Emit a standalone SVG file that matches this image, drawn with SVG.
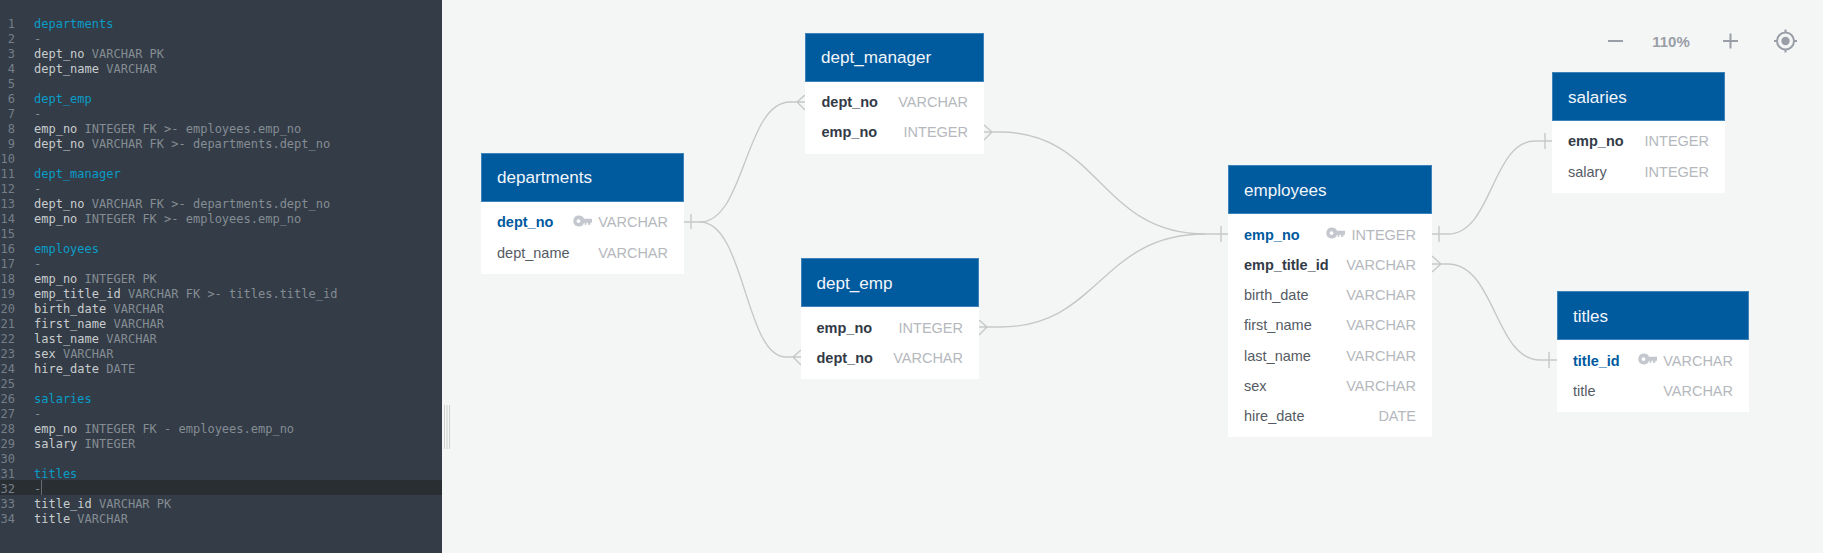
<svg xmlns="http://www.w3.org/2000/svg" width="1823" height="553" viewBox="0 0 1823 553">
<style>
.bg{fill:#f4f6f6}
.side{fill:#333c47}
.code text{font-family:"DejaVu Sans Mono","Liberation Mono",monospace;font-size:12px;fill:#858c93}
.code .ln{fill:#767f88;text-anchor:end}
.code .t{fill:#0a9cc8}
.code .k{fill:#c9ccce}
.hd{fill:#005a9e;stroke:#3d82b8;stroke-width:1}
.bd{fill:#fff}
.name{font-family:"Liberation Sans",Arial,sans-serif;font-size:17.1px;fill:#f2f6fa}
.f{font-family:"Liberation Sans",Arial,sans-serif;font-size:14.5px;fill:#555b63}
.b{font-weight:700;fill:#333b47}
.p{font-weight:700;fill:#005a9e}
.ty{font-family:"Liberation Sans",Arial,sans-serif;font-size:14.5px;fill:#b5b8bd;text-anchor:end}
.c path{fill:none;stroke:#c6c8c8;stroke-width:1.4}
.ctl{stroke:#9a9ea6;stroke-width:2;fill:none}
</style>
<defs>
<path id="key" fill="#c4c8ce" fill-rule="evenodd" d="M5 -5.500a5.500 5.500 0 0 1 5 3.300H18V1.800H16.400V3.800H14V1.800H12.400V3.800H10.600V1.800H10A5.500 5.500 0 1 1 5 -5.500ZM4.500 -1.800a1.900 1.900 0 1 0 .01 0Z"/>
</defs>
<rect class="bg" width="1823" height="553"/>
<g id="editor">
<rect class="side" width="442" height="553"/>
<rect x="0" y="480" width="442" height="15" fill="#292e33"/>
<rect x="41" y="480" width="1" height="15" fill="#666c73"/>
<g class="code" transform="translate(0 0.6)">
<text class="ln" x="15" y="27">1</text><text x="34" y="27" class="t">departments</text>
<text class="ln" x="15" y="42">2</text><text x="34" y="42">-</text>
<text class="ln" x="15" y="57">3</text><text x="34" y="57"><tspan class="k">dept_no</tspan> VARCHAR PK</text>
<text class="ln" x="15" y="72">4</text><text x="34" y="72"><tspan class="k">dept_name</tspan> VARCHAR</text>
<text class="ln" x="15" y="87">5</text>
<text class="ln" x="15" y="102">6</text><text x="34" y="102" class="t">dept_emp</text>
<text class="ln" x="15" y="117">7</text><text x="34" y="117">-</text>
<text class="ln" x="15" y="132">8</text><text x="34" y="132"><tspan class="k">emp_no</tspan> INTEGER FK &gt;- employees.emp_no</text>
<text class="ln" x="15" y="147">9</text><text x="34" y="147"><tspan class="k">dept_no</tspan> VARCHAR FK &gt;- departments.dept_no</text>
<text class="ln" x="15" y="162">10</text>
<text class="ln" x="15" y="177">11</text><text x="34" y="177" class="t">dept_manager</text>
<text class="ln" x="15" y="192">12</text><text x="34" y="192">-</text>
<text class="ln" x="15" y="207">13</text><text x="34" y="207"><tspan class="k">dept_no</tspan> VARCHAR FK &gt;- departments.dept_no</text>
<text class="ln" x="15" y="222">14</text><text x="34" y="222"><tspan class="k">emp_no</tspan> INTEGER FK &gt;- employees.emp_no</text>
<text class="ln" x="15" y="237">15</text>
<text class="ln" x="15" y="252">16</text><text x="34" y="252" class="t">employees</text>
<text class="ln" x="15" y="267">17</text><text x="34" y="267">-</text>
<text class="ln" x="15" y="282">18</text><text x="34" y="282"><tspan class="k">emp_no</tspan> INTEGER PK</text>
<text class="ln" x="15" y="297">19</text><text x="34" y="297"><tspan class="k">emp_title_id</tspan> VARCHAR FK &gt;- titles.title_id</text>
<text class="ln" x="15" y="312">20</text><text x="34" y="312"><tspan class="k">birth_date</tspan> VARCHAR</text>
<text class="ln" x="15" y="327">21</text><text x="34" y="327"><tspan class="k">first_name</tspan> VARCHAR</text>
<text class="ln" x="15" y="342">22</text><text x="34" y="342"><tspan class="k">last_name</tspan> VARCHAR</text>
<text class="ln" x="15" y="357">23</text><text x="34" y="357"><tspan class="k">sex</tspan> VARCHAR</text>
<text class="ln" x="15" y="372">24</text><text x="34" y="372"><tspan class="k">hire_date</tspan> DATE</text>
<text class="ln" x="15" y="387">25</text>
<text class="ln" x="15" y="402">26</text><text x="34" y="402" class="t">salaries</text>
<text class="ln" x="15" y="417">27</text><text x="34" y="417">-</text>
<text class="ln" x="15" y="432">28</text><text x="34" y="432"><tspan class="k">emp_no</tspan> INTEGER FK - employees.emp_no</text>
<text class="ln" x="15" y="447">29</text><text x="34" y="447"><tspan class="k">salary</tspan> INTEGER</text>
<text class="ln" x="15" y="462">30</text>
<text class="ln" x="15" y="477">31</text><text x="34" y="477" class="t">titles</text>
<text class="ln" x="15" y="492">32</text><text x="34" y="492">-</text>
<text class="ln" x="15" y="507">33</text><text x="34" y="507"><tspan class="k">title_id</tspan> VARCHAR PK</text>
<text class="ln" x="15" y="522">34</text><text x="34" y="522"><tspan class="k">title</tspan> VARCHAR</text>
</g>
<path d="M444.5 405V449M447 405V449M449.5 405V449" stroke="#d0d2d2" stroke-width="1" fill="none"/>
</g>
<g id="connectors" class="c">
<path d="M684 222H700C745 222 745 102 790 102H805M797 102L805 95M797 102L805 110M691 214V229"/>
<path d="M700 222C745 222 745 357 786 357H801M793 357L801 350M793 357L801 365"/>
<path d="M984 132H1000C1100 132 1100 234 1205 234H1228M992 132L984 125M992 132L984 140M1221 226V242"/>
<path d="M979 327H1000C1100 327 1100 234 1205 234M987 327L979 320M987 327L979 335"/>
<path d="M1432 234H1448C1492 234 1492 141 1535 141H1552M1439 226V242M1545 133V149"/>
<path d="M1432 264H1448C1495 264 1495 360 1540 360H1557M1441 264L1432 256M1441 264L1432 272M1549 352V368"/>
</g>
<g id="departments">
<rect class="bd" x="481" y="201" width="203" height="73"/>
<rect class="hd" x="481.5" y="153.5" width="202" height="48"/>
<text class="name" x="497" y="183">departments</text>
<text class="f p" x="497" y="227">dept_no</text><use href="#key" x="574" y="221"/><text class="ty" x="668" y="227">VARCHAR</text>
<text class="f" x="497" y="257.500">dept_name</text><text class="ty" x="668" y="257.500">VARCHAR</text>
</g>
<g id="dept_manager">
<rect class="bd" x="805" y="81" width="179" height="73"/>
<rect class="hd" x="805.5" y="33.5" width="178" height="48"/>
<text class="name" x="821" y="63">dept_manager</text>
<text class="f b" x="821.500" y="107">dept_no</text><text class="ty" x="968" y="107">VARCHAR</text>
<text class="f b" x="821.500" y="137">emp_no</text><text class="ty" x="968" y="137">INTEGER</text>
</g>
<g id="dept_emp">
<rect class="bd" x="801" y="306" width="178" height="73"/>
<rect class="hd" x="801.5" y="258.5" width="177" height="48"/>
<text class="name" x="816.500" y="288.500">dept_emp</text>
<text class="f b" x="816.500" y="332.500">emp_no</text><text class="ty" x="963" y="332.500">INTEGER</text>
<text class="f b" x="816.500" y="362.500">dept_no</text><text class="ty" x="963" y="362.500">VARCHAR</text>
</g>
<g id="employees">
<rect class="bd" x="1228" y="213" width="204" height="224"/>
<rect class="hd" x="1228.5" y="165.5" width="203" height="48"/>
<text class="name" x="1244" y="195.500">employees</text>
<text class="f p" x="1244" y="239.500">emp_no</text><use href="#key" x="1327" y="233"/><text class="ty" x="1416" y="239.500">INTEGER</text>
<text class="f b" x="1244" y="269.500">emp_title_id</text><text class="ty" x="1416" y="269.500">VARCHAR</text>
<text class="f" x="1244" y="299.500">birth_date</text><text class="ty" x="1416" y="299.500">VARCHAR</text>
<text class="f" x="1244" y="330">first_name</text><text class="ty" x="1416" y="330">VARCHAR</text>
<text class="f" x="1244" y="360.500">last_name</text><text class="ty" x="1416" y="360.500">VARCHAR</text>
<text class="f" x="1244" y="390.500">sex</text><text class="ty" x="1416" y="390.500">VARCHAR</text>
<text class="f" x="1244" y="420.500">hire_date</text><text class="ty" x="1416" y="420.500">DATE</text>
</g>
<g id="salaries">
<rect class="bd" x="1552" y="120" width="173" height="73"/>
<rect class="hd" x="1552.5" y="72.5" width="172" height="48"/>
<text class="name" x="1568" y="102.500">salaries</text>
<text class="f b" x="1568" y="146">emp_no</text><text class="ty" x="1709" y="146">INTEGER</text>
<text class="f" x="1568" y="176.500">salary</text><text class="ty" x="1709" y="176.500">INTEGER</text>
</g>
<g id="titles">
<rect class="bd" x="1557" y="339" width="192" height="73"/>
<rect class="hd" x="1557.5" y="291.5" width="191" height="48"/>
<text class="name" x="1573" y="321.500">titles</text>
<text class="f p" x="1573" y="365.500">title_id</text><use href="#key" x="1639" y="359"/><text class="ty" x="1733" y="365.500">VARCHAR</text>
<text class="f" x="1573" y="395.500">title</text><text class="ty" x="1733" y="395.500">VARCHAR</text>
</g>
<g id="controls">
<path class="ctl" d="M1608 41H1623M1723 41H1738M1730.5 33.500V48.500"/>
<text x="1671" y="47" font-family="Liberation Sans,Arial,sans-serif" font-size="15" font-weight="700" fill="#9a9ea6" text-anchor="middle">110%</text>
<circle class="ctl" cx="1785.500" cy="41" r="8.500"/>
<circle cx="1785.500" cy="41" r="4.200" fill="#9a9ea6"/>
<path class="ctl" d="M1785.500 29.500V33M1785.500 49V52.500M1774 41H1777.500M1793.500 41H1797"/>
</g>
</svg>
